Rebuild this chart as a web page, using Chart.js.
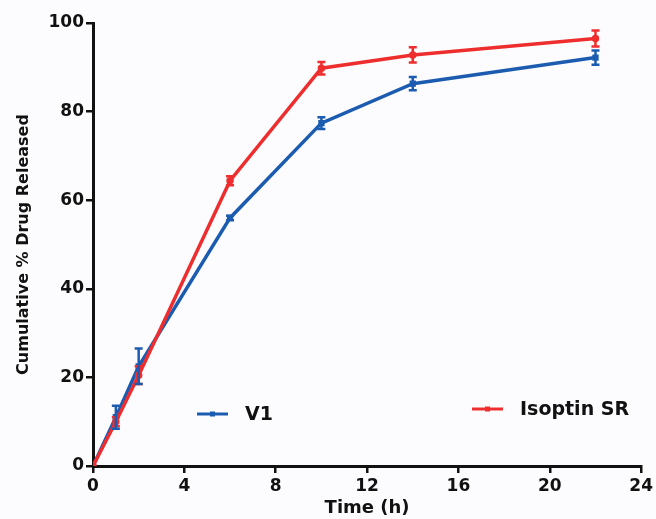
<!DOCTYPE html>
<html>
<head>
<meta charset="utf-8">
<script src="https://cdn.jsdelivr.net/npm/chart.js@4"></script>
<style>
  html, body { margin: 0; padding: 0; background: #fcfcfe; }
  #wrap { width: 656px; height: 519px; }
</style>
</head>
<body>
<div id="wrap"><canvas id="chart" width="656" height="519"></canvas></div>
<script>
// dados
const timeH = [0, 1, 2, 6, 10, 14, 22]
const v1Release = [0, 11, 22.5, 56, 77.4, 86.3, 92.2]
const v1Sd = [0, 2.6, 4, 0.5, 1.3, 1.5, 1.6]
const isoptinRelease = [0, 10, 20.5, 64.4, 89.8, 92.8, 96.5]
const isoptinSd = [0, 1, 2, 1, 1.4, 1.7, 1.8]
const xTicks = [0, 4, 8, 12, 16, 20, 24]
const yTicks = [0, 20, 40, 60, 80, 100]

const BLUE = '#1c5cb0'
const RED = '#ee2e2e'
const FONT = '"DejaVu Sans", Arial, sans-serif'

const toPoints = (vals) => timeH.map((t, i) => ({ x: t, y: vals[i] }))

// barras de erro desenhadas com as escalas do próprio Chart.js
const errorBars = {
  id: 'errorBars',
  afterDatasetsDraw(chart) {
    const ctx = chart.ctx
    const xs = chart.scales.x, ys = chart.scales.y
    chart.data.datasets.forEach(ds => {
      if (!ds.sd) return
      ctx.save()
      ctx.strokeStyle = ds.borderColor
      ctx.lineWidth = 2.5
      ds.data.forEach((p, i) => {
        const e = ds.sd[i]
        if (!e) return
        const px = xs.getPixelForValue(p.x)
        const top = ys.getPixelForValue(p.y + e)
        const bot = ys.getPixelForValue(p.y - e)
        ctx.beginPath()
        ctx.moveTo(px, top); ctx.lineTo(px, bot)
        ctx.moveTo(px - 4, top); ctx.lineTo(px + 4, top)
        ctx.moveTo(px - 4, bot); ctx.lineTo(px + 4, bot)
        ctx.stroke()
      })
      ctx.restore()
    })
  }
}

// legenda separada, como no original
const splitLegend = {
  id: 'splitLegend',
  afterDraw(chart) {
    const ctx = chart.ctx
    const items = [
      { text: 'V1', color: BLUE, x: 197, y: 414 },
      { text: 'Isoptin SR', color: RED, x: 472, y: 409 }
    ]
    ctx.save()
    items.forEach(it => {
      ctx.strokeStyle = it.color
      ctx.lineWidth = 3
      ctx.beginPath()
      ctx.moveTo(it.x, it.y); ctx.lineTo(it.x + 31, it.y)
      ctx.stroke()
      ctx.fillStyle = it.color
      ctx.fillRect(it.x + 13, it.y - 2.5, 5, 5)
      ctx.fillStyle = '#111'
      ctx.font = 'bold 19px ' + FONT
      ctx.textBaseline = 'middle'
      ctx.textAlign = 'left'
      ctx.fillText(it.text, it.x + 48, it.y + 1)
    })
    ctx.restore()
  }
}

const ctx = document.getElementById('chart').getContext('2d')
new Chart(ctx, {
  type: 'line',
  data: {
    datasets: [
      {
        label: 'Isoptin SR',
        data: toPoints(isoptinRelease),
        sd: isoptinSd,
        borderColor: RED,
        backgroundColor: RED,
        borderWidth: 3.5,
        pointRadius: 2,
        tension: 0
      },
      {
        label: 'V1',
        data: toPoints(v1Release),
        sd: v1Sd,
        borderColor: BLUE,
        backgroundColor: BLUE,
        borderWidth: 3.5,
        pointRadius: 2,
        pointStyle: 'rect',
        tension: 0
      }
    ]
  },
  options: {
    responsive: false,
    animation: false,
    layout: { padding: { left: 0, right: 12, top: 23, bottom: 0 } },
    plugins: {
      legend: { display: false },
      tooltip: { enabled: false }
    },
    scales: {
      x: {
        type: 'linear',
        min: 0,
        max: 24,
        afterBuildTicks: (s) => { s.ticks = xTicks.map(v => ({ value: v })) },
        afterFit: (s) => { s.height = 53 },
        grid: { drawOnChartArea: false, drawTicks: true, tickLength: 7, color: '#111', lineWidth: 2.5 },
        border: { display: true, color: '#111', width: 3 },
        ticks: { color: '#111', padding: 3, font: { family: FONT, size: 17, weight: 'bold' } },
        title: { display: true, text: 'Time (h)', color: '#111', padding: { top: 0, bottom: 0 }, font: { family: FONT, size: 18, weight: 'bold' } }
      },
      y: {
        min: 0,
        max: 100,
        afterBuildTicks: (s) => { s.ticks = yTicks.map(v => ({ value: v })) },
        afterFit: (s) => { s.width = 93 },
        grid: { drawOnChartArea: false, drawTicks: true, tickLength: 7, color: '#111', lineWidth: 2.5 },
        border: { display: true, color: '#111', width: 3 },
        ticks: { color: '#111', padding: 2, font: { family: FONT, size: 17, weight: 'bold' } },
        title: { display: true, text: 'Cumulative % Drug Released', color: '#111', padding: { top: 14, bottom: 0 }, font: { family: FONT, size: 16, weight: 'bold' } }
      }
    }
  },
  plugins: [errorBars, splitLegend]
})
</script>
</body>
</html>
